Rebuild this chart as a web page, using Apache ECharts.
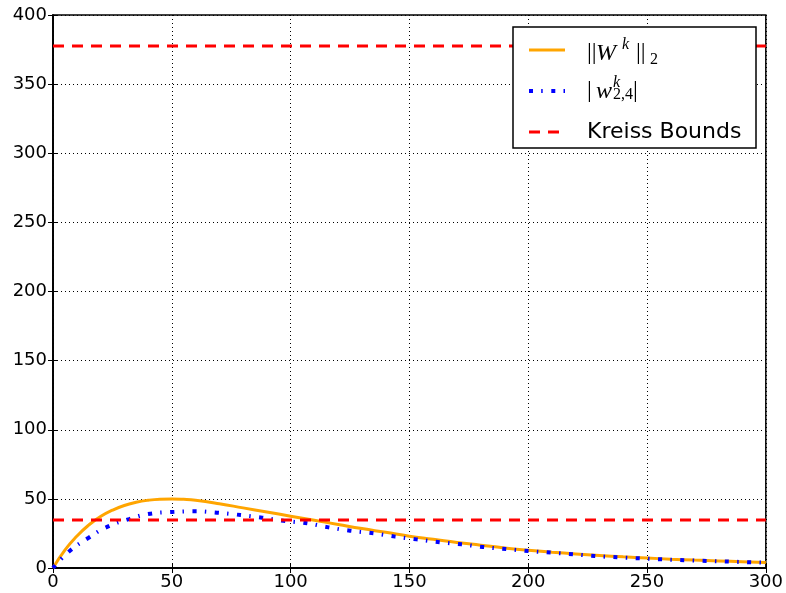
<!DOCTYPE html>
<html>
<head>
<meta charset="utf-8">
<script src="https://cdn.jsdelivr.net/npm/echarts@6/dist/echarts.min.js"></script>
<style>
  html, body { margin: 0; padding: 0; background: #fff; }
  #chart { width: 786px; height: 593px; }
</style>
</head>
<body>
<div id="chart"></div>
<script>
// ||W^k||_2 curve
const normK = [0, 5, 10, 15, 20, 25, 30, 35, 40, 45, 50, 55, 60, 70, 80, 90, 100, 110, 120, 130,
  140, 150, 160, 170, 180, 190, 200, 210, 220, 230, 240, 250, 260, 270, 280, 290, 300]
const normVal = [0, 13, 23, 31, 37.3, 41.8, 45.2, 47.5, 49, 49.8, 50, 49.7, 49, 46.5, 43.5, 40.5, 37.5, 34.5, 31.5, 28.5,
  25.8, 23, 20.8, 18.5, 16.5, 14.5, 12.8, 11.4, 10.2, 9.1, 8.1, 7.2, 6.4, 5.7, 5.1, 4.5, 3.9]

// |w_{2,4}^k| curve
const entryK = [0, 7, 15, 23, 32, 41, 50, 60, 69, 79, 88, 97, 107, 116, 125, 135, 144, 153, 163, 172,
  181, 191, 200, 210, 219, 228, 238, 247, 256, 266, 275, 285, 294, 300]
const entryVal = [0, 12.3, 21.9, 29.9, 35.4, 39.3, 40.5, 41, 40, 38.3, 36.4, 34.2, 32.3, 29.4, 27, 25.1, 22.7, 20.7, 18.6, 17.1,
  15.2, 13.7, 12.3, 11.1, 9.9, 8.7, 7.7, 7, 6.3, 5.6, 5.1, 4.6, 4.1, 3.8]

// Kreiss bounds (upper and lower)
const kreissBounds = [377.6, 34.7]

const xRange = [0, 300]
const yRange = [0, 400]

const chart = echarts.init(document.getElementById('chart'))

const axisFont = { color: '#000', fontSize: 18, fontFamily: 'DejaVu Sans' }
const tick = { show: true, inside: true, length: 5, lineStyle: { color: '#000', width: 1 } }
const grid = { show: true, lineStyle: { color: '#000', width: 1, type: [1, 3] } }

const normStyle = { color: '#ffa500', width: 3 }
const entryStyle = { color: '#0000ff', width: 4, type: [4, 8.2, 1.5, 8.6] }
const boundStyle = { color: '#ff0000', width: 3, type: [11, 8] }

const zip = (xs, ys) => xs.map((x, i) => [x, ys[i]])

const series = [
  {
    name: 'norm',
    type: 'line',
    smooth: true,
    symbol: 'none',
    data: zip(normK, normVal),
    lineStyle: normStyle,
    itemStyle: { color: normStyle.color }
  },
  {
    name: 'entry',
    type: 'line',
    smooth: true,
    symbol: 'none',
    data: zip(entryK, entryVal),
    lineStyle: entryStyle,
    itemStyle: { color: entryStyle.color }
  }
]
kreissBounds.forEach(b => {
  series.push({
    name: 'Kreiss Bounds',
    type: 'line',
    symbol: 'none',
    data: [[xRange[0], b], [xRange[1], b]],
    lineStyle: boundStyle,
    itemStyle: { color: boundStyle.color }
  })
})

// math labels in the legend
const serif = '"Liberation Serif", "DejaVu Serif", serif'
const t = (text, x, y, size, italic) => ({
  type: 'text',
  z: 100,
  style: {
    text, x, y,
    font: (italic ? 'italic ' : '') + size + 'px ' + serif,
    fill: '#000',
    textAlign: 'left',
    verticalAlign: 'middle'
  }
})

const option = {
  animation: false,
  grid: { left: 53, right: 19, top: 15, bottom: 25, show: true, borderColor: '#000', borderWidth: 1.5 },
  xAxis: [
    {
      type: 'value', min: xRange[0], max: xRange[1], interval: 50,
      axisLine: { show: true, lineStyle: { color: '#000', width: 1.5 } },
      axisTick: tick,
      axisLabel: Object.assign({ margin: 5 }, axisFont),
      splitLine: grid
    },
    {
      type: 'value', position: 'top', min: xRange[0], max: xRange[1], interval: 50,
      axisLine: { show: true, lineStyle: { color: '#000', width: 1.5 } },
      axisTick: tick, axisLabel: { show: false }, splitLine: { show: false }
    }
  ],
  yAxis: [
    {
      type: 'value', min: yRange[0], max: yRange[1], interval: 50,
      axisLine: { show: true, lineStyle: { color: '#000', width: 1.5 } },
      axisTick: tick,
      axisLabel: Object.assign({ margin: 6 }, axisFont),
      splitLine: grid
    },
    {
      type: 'value', position: 'right', min: yRange[0], max: yRange[1], interval: 50,
      axisLine: { show: true, lineStyle: { color: '#000', width: 1.5 } },
      axisTick: tick, axisLabel: { show: false }, splitLine: { show: false }
    }
  ],
  legend: {
    orient: 'vertical',
    left: 513,
    top: 27,
    z: 6,
    padding: [8, 12, 1, 14],
    backgroundColor: '#fff',
    borderColor: '#000',
    borderWidth: 1.5,
    borderRadius: 0,
    itemWidth: 36,
    itemHeight: 14,
    itemGap: 11,
    itemStyle: { opacity: 0 },
    data: [
      { name: 'norm', lineStyle: normStyle },
      { name: 'entry', lineStyle: entryStyle },
      { name: 'Kreiss Bounds', lineStyle: boundStyle }
    ],
    formatter: name => name === 'Kreiss Bounds' ? name : ' ',
    textStyle: { color: '#000', fontSize: 22, fontFamily: 'DejaVu Sans', lineHeight: 30, width: 157, padding: [0, 0, 0, 17] }
  },
  graphic: [
    t('||', 587, 53, 24, false),
    t('W', 596, 53.6, 24, true),
    t('k', 622, 44.6, 16, true),
    t('||', 636, 53, 24, false),
    t('2', 650, 59.6, 16, false),
    t('|', 587, 91, 24, false),
    t('w', 596, 92, 24, true),
    t('k', 613, 82.6, 16, true),
    t('2,4', 613, 94.6, 16, false),
    t('|', 633, 91, 24, false)
  ],
  series
}

chart.setOption(option)
</script>
</body>
</html>
